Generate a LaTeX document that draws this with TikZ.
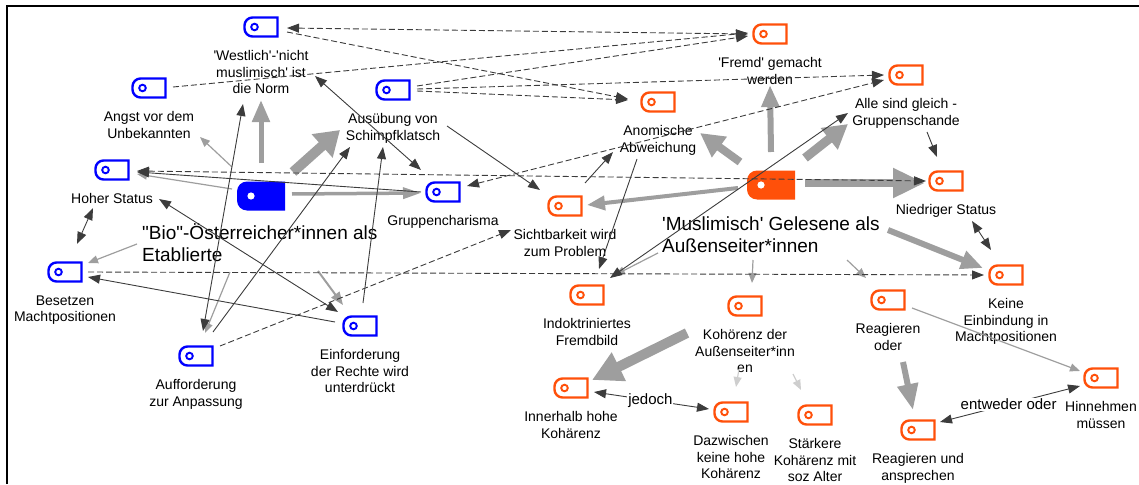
\documentclass[tikz,border=0pt]{standalone}
\usepackage{fontspec}
\setmainfont{Liberation Sans}[Ligatures=TeXOff]
\usetikzlibrary{arrows.meta,positioning,calc}

\definecolor{tagblue}{RGB}{0,0,255}
\definecolor{tagorange}{RGB}{255,80,10}
\definecolor{linkdark}{RGB}{60,60,60}
\definecolor{linkgray}{RGB}{158,158,158}

\tikzset{
  tagbox/.style={rectangle, minimum width=33pt, minimum height=19pt, inner sep=0pt, outer sep=0pt},
  corebox/.style={rectangle, minimum width=48pt, minimum height=29pt, inner sep=0pt, outer sep=0pt},
  lbl/.style={align=center, inner sep=0pt, font=\fontsize{14}{16.5}\selectfont},
  biglbl/.style={align=left, inner sep=0pt, anchor=north west, font=\fontsize{19}{22}\selectfont},
  edgelbl/.style={fill=white, inner sep=1pt, font=\fontsize{15}{17}\selectfont},
  lnk/.style={draw=linkdark, line width=0.9pt, -{Triangle[length=12pt,width=9pt]}},
  lnkb/.style={draw=linkdark, line width=0.9pt, {Triangle[length=12pt,width=9pt]}-{Triangle[length=12pt,width=9pt]}},
  dlnk/.style={lnk, dash pattern=on 6pt off 3pt},
  dlnkb/.style={lnkb, dash pattern=on 6pt off 3pt},
  faint/.style={draw=linkgray, line width=1.2pt, -{Triangle[length=10pt,width=8pt]}},
  fat/.style n args={3}{draw=linkgray, line width=#1, -{Triangle[length=#2,width=#3]}},
}

% outlined code tag with a label underneath
\newcommand\tagicon[5]{%
  \node[tagbox] (#1) at (#2,#3) {};
  \draw[#4, line width=2.4pt] (#1.north east) -- (#1.south east)
     -- ([xshift=8pt]#1.south west) arc[start angle=270,end angle=180,radius=8pt]
     -- ([yshift=-8pt]#1.north west) arc[start angle=180,end angle=90,radius=8pt] -- cycle;
  \draw[#4, line width=1.9pt] ([xshift=10pt]#1.west) circle[radius=3.3pt];
  \node[lbl, below=14pt of #1] (#1-l) {#5};
}
% filled core tag
\newcommand\coretag[4]{%
  \node[corebox] (#1) at (#2,#3) {};
  \fill[#4] (#1.north east) -- (#1.south east)
     -- ([xshift=10pt]#1.south west) arc[start angle=270,end angle=180,radius=10pt]
     -- ([yshift=-10pt]#1.north west) arc[start angle=180,end angle=90,radius=10pt] -- cycle;
  \fill[white] ([xshift=14pt]#1.west) circle[radius=3.6pt];
}

\begin{document}
\begin{tikzpicture}[x=1pt,y=-1pt]
\useasboundingbox (0,0) rectangle (1139,484);
\draw[line width=2pt] (6.5,484) -- (6.5,6.5) -- (1139,6.5);

% ---- established group (blue)
\coretag{BM}{261}{196}{tagblue}
\node[biglbl] (BM-l) at (142,223) {"Bio"-Österreicher*innen als\\Etablierte};
\tagicon{W}{261}{27}{tagblue}{'Westlich'-'nicht\\muslimisch' ist\\die Norm}
\tagicon{A}{149}{88}{tagblue}{Angst vor dem\\Unbekannten}
\tagicon{H}{112}{170}{tagblue}{Hoher Status}
\tagicon{S}{393}{90}{tagblue}{Ausübung von\\Schimpfklatsch}
\tagicon{G}{443}{192}{tagblue}{Gruppencharisma}
\tagicon{B}{65}{272}{tagblue}{Besetzen\\Machtpositionen}
\tagicon{AF}{196}{356}{tagblue}{Aufforderung\\zur Anpassung}
\tagicon{E}{360}{326}{tagblue}{Einforderung\\der Rechte wird\\unterdrückt}

% ---- outsider group (orange)
\coretag{OM}{771}{185}{tagorange}
\node[biglbl] (OM-l) at (662,217) {'Muslimisch' Gelesene als\\Außenseiter*innen};
\tagicon{F}{770}{34}{tagorange}{'Fremd' gemacht\\werden}
\tagicon{AG}{906}{75}{tagorange}{Alle sind gleich -\\Gruppenschande}
\tagicon{AN}{658}{102}{tagorange}{Anomische\\Abweichung}
\tagicon{SP}{565}{206}{tagorange}{Sichtbarkeit wird\\zum Problem}
\tagicon{N}{946}{181}{tagorange}{Niedriger Status}
\tagicon{K}{1006}{275}{tagorange}{Keine\\Einbindung in\\Machtpositionen}
\tagicon{I}{587}{295}{tagorange}{Indoktriniertes\\Fremdbild}
\tagicon{KO}{745}{306}{tagorange}{Kohörenz der\\Außenseiter*inn\\en}
\tagicon{R}{888}{300}{tagorange}{Reagieren\\oder}
\tagicon{IH}{571}{388}{tagorange}{Innerhalb hohe\\Kohärenz}
\tagicon{D}{731}{412}{tagorange}{Dazwischen\\keine hohe\\Kohärenz}
\tagicon{ST}{815}{415}{tagorange}{Stärkere\\Kohärenz mit\\soz Alter}
\tagicon{RA}{918}{430}{tagorange}{Reagieren und\\ansprechen}
\tagicon{HM}{1101}{378}{tagorange}{Hinnehmen\\müssen}

% ---- gray links from the core tags
\draw[faint] ($(BM)+(-29,-29)$) -- ($(A)+(51,49)$);
\draw[fat={5pt}{22pt}{17pt}] ($(BM)+(0,-33)$) -- ($(W)+(0,73)$);
\draw[fat={10pt}{24pt}{30pt}] ($(BM)+(32,-24)$) -- ($(S)+(-53,40)$);
\draw[faint] ($(BM)+(-29,-7)$) -- ($(H)+(25,4)$);
\draw[fat={3.5pt}{18pt}{11pt}] ($(BM)+(31,-2)$) -- ($(G)+(-22,1)$);
\draw[faint] ($(BM)+(-124,48)$) -- ($(B)+(23,-9)$);
\draw[faint] ($(BM)+(-31,76)$) -- ($(AF)+(9,-23)$);
\draw[fat={2pt}{13pt}{10pt}] ($(BM)+(57,75)$) -- ($(E)+(-17,-21)$);

\draw[fat={4pt}{18pt}{14pt}] ($(OM)+(-33,3)$) -- ($(SP)+(22,-1)$);
\draw[fat={8pt}{24pt}{24pt}] ($(OM)+(-31,-23)$) -- ($(AN)+(42,31)$);
\draw[fat={6pt}{22pt}{17pt}] ($(OM)+(0,-33)$) -- ($(F)+(0,51)$);
\draw[fat={9pt}{24pt}{26pt}] ($(OM)+(34,-27)$) -- ($(AG)+(-58,49)$);
\draw[fat={8pt}{32pt}{28pt}] ($(OM)+(34,-2)$) -- ($(N)+(-21,2)$);
\draw[fat={6pt}{22pt}{18pt}] ($(OM)+(117,45)$) -- ($(K)+(-23,-7)$);
\draw[faint] ($(OM)+(-113,68)$) -- ($(I)+(28,-20)$);
\draw[faint] ($(OM)+(-18,75)$) -- ($(KO)+(7,-23)$);
\draw[faint] ($(OM)+(76,75)$) -- ($(R)+(-22,-22)$);

\draw[fat={10pt}{30pt}{30pt}] ($(KO)+(-58,27)$) -- ($(IH)+(21,-8)$);
\draw[faint, draw=linkgray!50] ($(KO)+(-6,63)$) -- ($(D)+(5,-25)$);
\draw[faint, draw=linkgray!50] ($(KO)+(48,68)$) -- ($(ST)+(-14,-25)$);
\draw[fat={6pt}{26pt}{20pt}] ($(R)+(15,62)$) -- ($(RA)+(-5,-20)$);
\draw[faint] ($(R)+(24,8)$) -- ($(HM)+(-21,-7)$);

% ---- dashed links
\draw[dlnkb] ($(W)+(26,1)$) -- ($(F)+(-22,0)$);
\draw[dlnk] ($(W)+(26,5)$) -- ($(AN)+(-30,-3)$);
\draw[dlnk] ($(A)+(24,-1)$) -- ($(F)+(-22,-1)$);
\draw[dlnk] ($(S)+(24,-4)$) -- ($(F)+(-22,2)$);
\draw[dlnk] ($(S)+(24,1)$) -- ($(AN)+(-30,-2)$);
\draw[dlnk] ($(S)+(24,-1)$) -- ($(AG)+(-22,0)$);
\draw[dlnkb] ($(H)+(25,1)$) -- ($(N)+(-20,0)$);
\draw[dlnkb] ($(G)+(24,-6)$) -- ($(AG)+(-22,5)$);
\draw[dlnk] ($(B)+(23,0)$) -- ($(K)+(-22,0)$);
\draw[dlnk] ($(AF)+(24,-10)$) -- ($(SP)+(-54,24)$);

% ---- solid links
\draw[lnkb] ($(H)+(-19,38)$) -- ($(B)+(12,-28)$);
\draw[lnkb] ($(N)+(26,40)$) -- ($(K)+(-15,-25)$);
\draw[lnk] ($(AG)+(21,57)$) -- ($(N)+(-9,-24)$);
\draw[lnkb] ($(E)+(-22,-14)$) -- ($(H)+(47,29)$);
\draw[lnk] ($(E)+(-25,-4)$) -- ($(B)+(23,5)$);
\draw[lnk] ($(E)+(3,-23)$) -- ($(S)+(-10,57)$);
\draw[lnk] ($(AF)+(17,-24)$) -- ($(S)+(-43,57)$);
\draw[lnkb] ($(W)+(-18,77)$) -- ($(AF)+(7,-25)$);
\draw[lnkb] ($(W)+(54,49)$) -- ($(G)+(-22,-22)$);
\draw[lnk] ($(S)+(54,36)$) -- ($(SP)+(-25,-16)$);
\draw[lnk] ($(SP)+(20,-23)$) -- ($(AN)+(-45,50)$);
\draw[lnk] ($(AN)+(-21,57)$) -- ($(I)+(12,-26)$);
\draw[lnkb] ($(I)+(23,-17)$) -- ($(AG)+(-58,38)$);
\draw[lnk] ($(G)+(-22,0)$) -- ($(H)+(25,2)$);
\draw[lnkb] ($(IH)+(23,4)$) -- node[edgelbl, pos=0.49] (jed) {jedoch} ($(D)+(-22,-3)$);
\draw[lnkb] ($(RA)+(22,-8)$) -- node[edgelbl, pos=0.49] (ewo) {entweder oder} ($(HM)+(-21,8)$);
\end{tikzpicture}
\end{document}
